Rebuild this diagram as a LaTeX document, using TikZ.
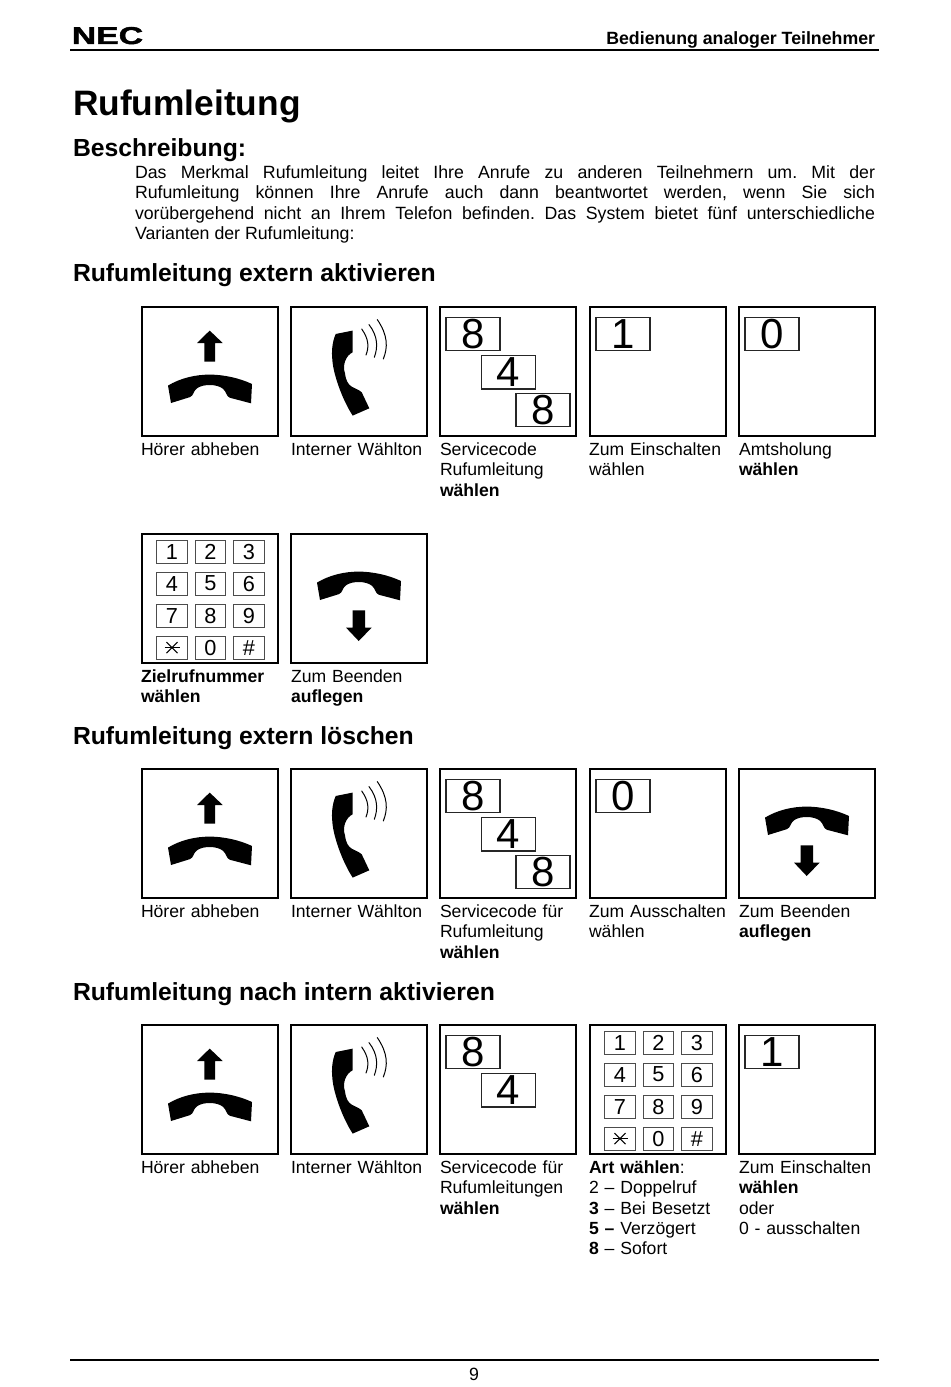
\documentclass[tikz,border=0pt]{standalone}
\usepackage{fontspec}
\usepackage{graphicx}
\setmainfont{Liberation Sans}
\newfontfamily\logofont[FakeBold=1.6]{Liberation Sans Bold}
\usetikzlibrary{calc,positioning}

\tikzset{
  stepbox/.style={draw=black, line width=1.5pt, minimum width=102pt, minimum height=96.75pt, inner sep=0pt, outer sep=0pt, anchor=north west},
  digitbox/.style={draw=black!85, line width=1pt, minimum width=40.5pt, minimum height=25pt, inner sep=0pt, outer sep=0pt, font=\fontsize{31.5}{32}\selectfont},
  keybox/.style={draw=black!70, line width=.8pt, minimum width=23pt, minimum height=17.25pt, inner sep=0pt, outer sep=0pt, font=\fontsize{16.3}{17}\selectfont},
  captext/.style={inner sep=0pt, outer sep=0pt, text width=110pt, align=left, font=\fontsize{13.2}{15.2}\selectfont, execute at begin node=\strut},
  bodytext/.style={inner sep=0pt, outer sep=0pt, anchor=north west, text width=555pt, align=justify, font=\fontsize{13.3}{15.2}\selectfont\frenchspacing, execute at begin node=\strut},
  bighead/.style={inner sep=0pt, outer sep=0pt, anchor=base west, font=\fontsize{26.5}{30}\selectfont\bfseries},
  subhead/.style={inner sep=0pt, outer sep=0pt, anchor=base west, font=\fontsize{18.55}{22}\selectfont\bfseries},
  pagetext/.style={inner sep=0pt, outer sep=0pt, font=\fontsize{13.3}{15}\selectfont},
  pagerule/.style={draw=black, line width=1.2pt},
  glyph/.style={fill=black, draw=none},
  ringline/.style={draw=black, line width=.75pt, line cap=round},
  handset/.pic={
    \fill[glyph] (26,78.3) .. controls (38,71) and (53,67.3) .. (67.7,67.3) .. controls (82,67.3) and (98,71) .. (110,76.7)
      -- (109,96) -- (88,90.5) .. controls (84,89) and (85,85) .. (81,81.5) .. controls (75,76.5) and (61,76.5) .. (55,81)
      .. controls (51,84) and (52,88) .. (48,89.8) -- (29,95.7) -- cycle;
  },
  hookup/.pic={
    \pic at (0,0) {handset};
    \fill[glyph] (67.7,23.3) -- (80.7,35.7) -- (73,35.7) -- (73,54.3) -- (62.3,54.3) -- (62.3,35.7) -- (55,35.7) -- cycle;
  },
  hookdown/.pic={
    \pic at (0,-30) {handset};
    \fill[glyph] (61.7,76) -- (74,76) -- (74,93.3) -- (80.7,93.3) -- (67.7,106.7) -- (55,93.3) -- (61.7,93.3) -- cycle;
  },
  ringtone/.pic={
    \fill[glyph] (61.7,23.3) -- (44.7,26.7) .. controls (41,35) and (40.5,45) .. (41.3,52)
      .. controls (42,66) and (51,92) .. (61.7,108.3) -- (78.3,101) -- (70.7,85)
      .. controls (64,79) and (56,82) .. (54,66) .. controls (51,58) and (55,48) .. (61.7,45) -- cycle;
    \draw[ringline] (70.7,21.7) .. controls (78,32) and (78,40) .. (75,47.7);
    \draw[ringline] (78,17.3) .. controls (87,29) and (87,40) .. (83.3,50);
    \draw[ringline] (86.3,12.3) .. controls (97,28) and (97,40) .. (92.3,51.7);
  },
  keypad/.pic={
    \foreach \lab/\cx/\cy [count=\i] in {1/0/0,2/1/0,3/2/0,4/0/1,5/1/1,6/2/1,7/0/2,8/1/2,9/2/2,{}/0/3,0/1/3,\#/2/3}
      \node[keybox] (key\i) at (30+38.5*\cx,17.3+32*\cy) {\lab};
    \draw[black, line width=.9pt] ($(key10)+(-7.5,0)$) -- ($(key10)+(7.5,0)$);
    \draw[black, line width=.9pt] ($(key10)+(-5.5,-5.5)$) -- ($(key10)+(5.5,5.5)$);
    \draw[black, line width=.9pt] ($(key10)+(-5.5,5.5)$) -- ($(key10)+(5.5,-5.5)$);
  },
}

\begin{document}
\begin{tikzpicture}[x=.75pt, y=-.75pt]
  \useasboundingbox (0,0) rectangle (950,1387);

  % page head
  \node[inner sep=0pt, anchor=base west] (logo) at (71.5,44) {\resizebox{53.5pt}{12.75pt}{\logofont NEC}};
  \node[pagetext, anchor=base east, font=\fontsize{13.3}{15}\selectfont\bfseries] (pagehead) at (875,44.7) {Bedienung analoger Teilnehmer};
  \draw[pagerule] (70,50) -- (879,50);

  \node[bighead] (title) at (73,116) {Rufumleitung};
  \node[subhead] (descr) at (73,156.5) {Beschreibung:};
  \node[bodytext] (descrtext) at (135,164.5) {Das Merkmal Rufumleitung leitet Ihre Anrufe zu anderen Teilnehmern um. Mit der\linebreak Rufumleitung können Ihre Anrufe auch dann beantwortet werden, wenn Sie sich\linebreak vorübergehend nicht an Ihrem Telefon befinden. Das System bietet fünf unterschiedliche\linebreak Varianten der Rufumleitung:};

  % extern aktivieren
  \node[subhead] (heada) at (73,282) {Rufumleitung extern aktivieren};
  \node[stepbox] (a1) at (142,307.3) {};
  \node[stepbox] (a2) at (291,307.3) {};
  \node[stepbox] (a3) at (440,307.3) {};
  \node[stepbox] (a4) at (590,307.3) {};
  \node[stepbox] (a5) at (739,307.3) {};
  \pic at (a1.north west) {hookup};
  \pic at (a2.north west) {ringtone};
  \node[digitbox, below right=7.5pt and 4.5pt of a3.north west] (a3x) {8};
  \node[digitbox, below right=36.2pt and 31.2pt of a3.north west] (a3y) {4};
  \node[digitbox, below right=64.5pt and 57pt of a3.north west] (a3z) {8};
  \node[digitbox, below right=7.5pt and 4.5pt of a4.north west] (a4x) {1};
  \node[digitbox, below right=7.5pt and 4.5pt of a5.north west] (a5x) {0};
  \node[captext, below right=3.85pt and -.75pt of a1.south west] (capa1) {Hörer abheben};
  \node[captext, below right=3.85pt and 0pt of a2.south west] (capa2) {Interner Wählton};
  \node[captext, below right=3.85pt and 0pt of a3.south west] (capa3) {Servicecode\\Rufumleitung\\\textbf{wählen}};
  \node[captext, below right=3.85pt and -.75pt of a4.south west] (capa4) {Zum Einschalten\\wählen};
  \node[captext, below right=3.85pt and 0pt of a5.south west] (capa5) {Amtsholung\\\textbf{wählen}};

  \node[stepbox] (b1) at (142,534.3) {};
  \node[stepbox] (b2) at (291,534.3) {};
  \pic (bpad) at (b1.north west) {keypad};
  \pic at (b2.north west) {hookdown};
  \node[captext, below right=3.85pt and -.75pt of b1.south west] (capb1) {\textbf{Zielrufnummer}\\\textbf{wählen}};
  \node[captext, below right=3.85pt and 0pt of b2.south west] (capb2) {Zum Beenden\\\textbf{auflegen}};

  % extern loeschen
  \node[subhead] (headc) at (73,744) {Rufumleitung extern löschen};
  \node[stepbox] (c1) at (142,769.3) {};
  \node[stepbox] (c2) at (291,769.3) {};
  \node[stepbox] (c3) at (440,769.3) {};
  \node[stepbox] (c4) at (590,769.3) {};
  \node[stepbox] (c5) at (739,769.3) {};
  \pic at (c1.north west) {hookup};
  \pic at (c2.north west) {ringtone};
  \node[digitbox, below right=7.5pt and 4.5pt of c3.north west] (c3x) {8};
  \node[digitbox, below right=36.2pt and 31.2pt of c3.north west] (c3y) {4};
  \node[digitbox, below right=64.5pt and 57pt of c3.north west] (c3z) {8};
  \node[digitbox, below right=7.5pt and 4.5pt of c4.north west] (c4x) {0};
  \pic at (c5.north west) {hookdown};
  \node[captext, below right=3.85pt and -.75pt of c1.south west] (capc1) {Hörer abheben};
  \node[captext, below right=3.85pt and 0pt of c2.south west] (capc2) {Interner Wählton};
  \node[captext, below right=3.85pt and 0pt of c3.south west] (capc3) {Servicecode für\\Rufumleitung\\\textbf{wählen}};
  \node[captext, below right=3.85pt and -.75pt of c4.south west] (capc4) {Zum Ausschalten\\wählen};
  \node[captext, below right=3.85pt and 0pt of c5.south west] (capc5) {Zum Beenden\\\textbf{auflegen}};

  % nach intern aktivieren
  \node[subhead] (headd) at (73,1000) {Rufumleitung nach intern aktivieren};
  \node[stepbox] (d1) at (142,1025.3) {};
  \node[stepbox] (d2) at (291,1025.3) {};
  \node[stepbox] (d3) at (440,1025.3) {};
  \node[stepbox] (d4) at (590,1025.3) {};
  \node[stepbox] (d5) at (739,1025.3) {};
  \pic at (d1.north west) {hookup};
  \pic at (d2.north west) {ringtone};
  \node[digitbox, below right=7.5pt and 4.5pt of d3.north west] (d3x) {8};
  \node[digitbox, below right=36.2pt and 31.2pt of d3.north west] (d3y) {4};
  \pic (dpad) at (d4.north west) {keypad};
  \node[digitbox, below right=7.5pt and 4.5pt of d5.north west] (d5x) {1};
  \node[captext, below right=3.85pt and -.75pt of d1.south west] (capd1) {Hörer abheben};
  \node[captext, below right=3.85pt and 0pt of d2.south west] (capd2) {Interner Wählton};
  \node[captext, below right=3.85pt and 0pt of d3.south west] (capd3) {Servicecode für\\Rufumleitungen\\\textbf{wählen}};
  \node[captext, below right=3.85pt and -.75pt of d4.south west] (capd4) {\textbf{Art wählen}:\\2 – Doppelruf\\\textbf{3} – Bei Besetzt\\\textbf{5 –} Verzögert\\\textbf{8} – Sofort};
  \node[captext, below right=3.85pt and 0pt of d5.south west] (capd5) {Zum Einschalten\\\textbf{wählen}\\oder\\0 - ausschalten};

  % page foot
  \draw[pagerule] (70,1360) -- (879,1360);
  \node[pagetext, anchor=base] (pagenum) at (474,1380) {9};
\end{tikzpicture}
\end{document}
